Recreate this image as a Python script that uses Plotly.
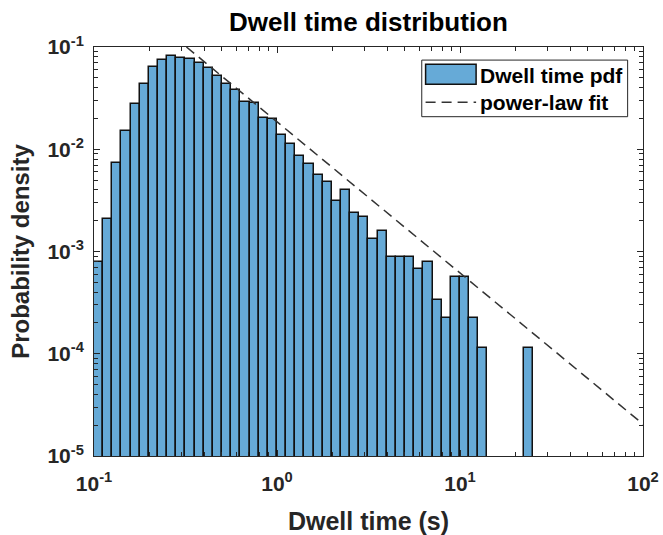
import plotly.graph_objects as go

# ---------------- data ----------------
# log-spaced bin edges (s)
bin_edges = [0.1, 0.1122, 0.1259, 0.1413, 0.1585, 0.1778, 0.1995, 0.2239, 0.2512, 0.2818,
             0.3162, 0.3548, 0.3981, 0.4467, 0.5012, 0.5623, 0.6310, 0.7079, 0.7943, 0.8913,
             1.0, 1.122, 1.259, 1.413, 1.585, 1.778, 1.995, 2.239, 2.512, 2.818,
             3.162, 3.548, 3.981, 4.467, 5.012, 5.623, 6.310, 7.079, 7.943, 8.913,
             10.0, 11.22, 12.59, 14.13, 15.85, 17.78, 19.95, 22.39, 25.12]
# probability density per bin (None = empty bin)
pdf_values = [7.9e-4, 2.10e-3, 7.35e-3, 0.0151, 0.0280, 0.0439, 0.0637, 0.0753, 0.0824, 0.0776,
              0.0758, 0.0698, 0.0619, 0.0521, 0.0432, 0.0378, 0.0292, 0.0286, 0.0204, 0.0196,
              0.0137, 0.0112, 8.6e-3, 7.24e-3, 5.61e-3, 4.75e-3, 3.10e-3, 4.00e-3, 2.40e-3, 2.18e-3,
              1.34e-3, 1.57e-3, 8.8e-4, 8.8e-4, 8.8e-4, 6.67e-4, 7.9e-4, 3.36e-4, 2.26e-4, 5.61e-4,
              5.61e-4, 2.26e-4, 1.14e-4, None, None, None, None, 1.14e-4]
# power-law fit line (visible part)
fit_x = [0.32, 10.0, 100.0]
fit_y = [0.1, 6.1e-4, 2.05e-5]

x_tick_vals = [0.1, 1, 10, 100]
x_tick_text = ["10<sup>-1</sup>", "10<sup>0</sup>", "10<sup>1</sup>", "10<sup>2</sup>"]
y_tick_vals = [1e-5, 1e-4, 1e-3, 1e-2, 1e-1]
y_tick_text = ["10<sup>-5</sup>", "10<sup>-4</sup>", "10<sup>-3</sup>", "10<sup>-2</sup>", "10<sup>-1</sup>"]

title_text = "Dwell time distribution"
x_label = "Dwell time (s)"
y_label = "Probability density"
legend_labels = ["Dwell time pdf", "power-law fit"]

# ---------------- figure ----------------
FONT = "Liberation Sans, Arial, Helvetica, sans-serif"
AX = "#262626"
BAR_FILL = "rgb(102,170,215)"

lefts = bin_edges[:-1]
widths = [b - a for a, b in zip(bin_edges[:-1], bin_edges[1:])]

fig = go.Figure()
fig.add_trace(go.Bar(
    x=lefts, y=pdf_values, width=widths, offset=0,
    marker=dict(color=BAR_FILL, line=dict(color="#111111", width=1.5)),
    name=legend_labels[0], showlegend=False,
))
fig.add_trace(go.Scatter(
    x=fit_x, y=fit_y, mode="lines",
    line=dict(color="#333333", width=1.5, dash="10px,6px"),
    name=legend_labels[1], showlegend=False,
))

minor_x = [m * d for d in (0.1, 1, 10) for m in range(2, 10)]
minor_y = [m * d for d in (1e-5, 1e-4, 1e-3, 1e-2) for m in range(2, 10)]

axis_common = dict(
    showline=True, linecolor=AX, linewidth=1, mirror="ticks",
    ticks="inside", ticklen=6, tickwidth=1, tickcolor=AX,
    showgrid=False, zeroline=False, automargin=False,
    tickfont=dict(family=FONT, size=21, color=AX, weight="bold"),
)

fig.update_xaxes(
    type="log", range=[-1, 2], tickmode="array",
    tickvals=x_tick_vals, ticktext=x_tick_text,
    minor=dict(tickvals=minor_x, ticks="inside", ticklen=4, tickcolor=AX, showgrid=False),
    ticklabelstandoff=9,
    title=dict(text=x_label, font=dict(family=FONT, size=25, color=AX, weight="bold"), standoff=19),
    **axis_common,
)
fig.update_yaxes(
    type="log", range=[-5, -1], tickmode="array",
    tickvals=y_tick_vals, ticktext=y_tick_text,
    minor=dict(tickvals=minor_y, ticks="inside", ticklen=4, tickcolor=AX, showgrid=False),
    ticklabelstandoff=5,
    title=dict(text=y_label, font=dict(family=FONT, size=24, color=AX, weight="bold"), standoff=10),
    **axis_common,
)

# custom MATLAB-style legend
L_X0, L_X1, L_Y0, L_Y1 = 0.597, 0.972, 0.8296, 0.968
shapes = [
    dict(type="rect", xref="paper", yref="paper", x0=L_X0, x1=L_X1, y0=L_Y0, y1=L_Y1,
         line=dict(color=AX, width=1), fillcolor="white", layer="above"),
    dict(type="rect", xref="paper", yref="paper", x0=0.604, x1=0.696, y0=0.909, y1=0.958,
         line=dict(color="#111111", width=1.5), fillcolor=BAR_FILL, layer="above"),
    dict(type="line", xref="paper", yref="paper", x0=0.604, x1=0.696, y0=0.865, y1=0.865,
         line=dict(color="#333333", width=1.5, dash="10px,6px"), layer="above"),
]
annotations = [
    dict(text=legend_labels[0], xref="paper", yref="paper", x=0.700, y=0.9315,
         xanchor="left", yanchor="middle", showarrow=False,
         font=dict(family=FONT, size=21, color="#000000", weight="bold")),
    dict(text=legend_labels[1], xref="paper", yref="paper", x=0.700, y=0.864,
         xanchor="left", yanchor="middle", showarrow=False,
         font=dict(family=FONT, size=21, color="#000000", weight="bold")),
]

fig.update_layout(
    width=663, height=535,
    margin=dict(l=94, r=20, t=47, b=79, autoexpand=False),
    paper_bgcolor="white", plot_bgcolor="white",
    bargap=0,
    title=dict(text=title_text, x=0.5, xref="paper", xanchor="center",
               y=1 - 22 / 535, yref="container", yanchor="middle",
               font=dict(family=FONT, size=26, color="#000000", weight="bold")),
    shapes=shapes, annotations=annotations,
    showlegend=False,
)

fig.write_html("out.html", config={"displayModeBar": False},
               post_script="document.body.style.margin='0px';document.body.style.overflow='hidden';")
